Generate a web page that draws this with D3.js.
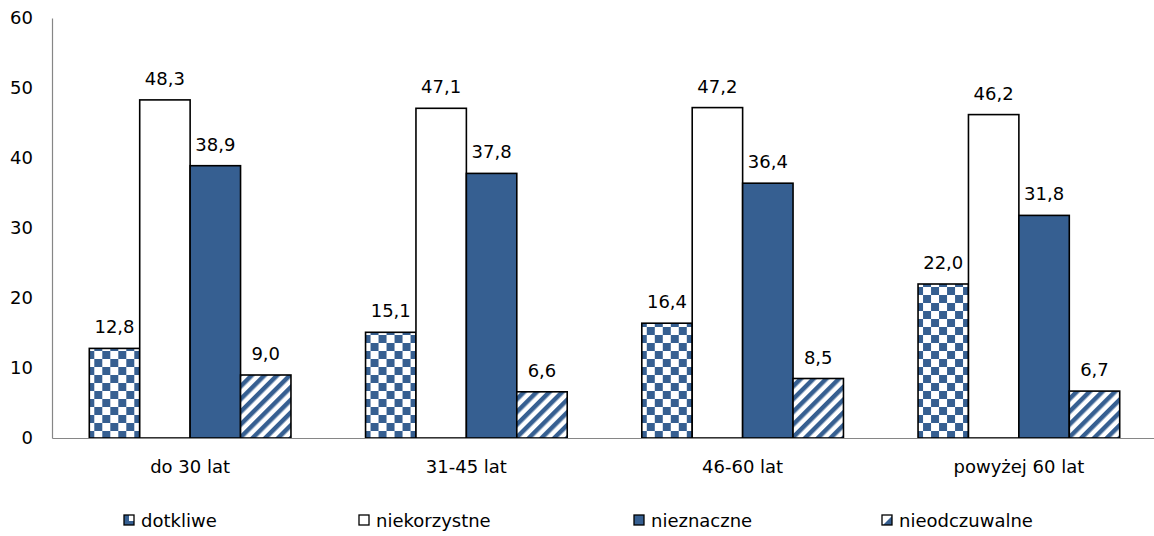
<!DOCTYPE html>
<html><head><meta charset="utf-8">
<script src="https://cdn.jsdelivr.net/npm/d3@7"></script>
<style>body{margin:0;background:#fff}svg{font-family:"DejaVu Sans",sans-serif}</style>
</head><body><svg id="c" width="1154" height="536"></svg>
<script>
const categories = ["do 30 lat", "31-45 lat", "46-60 lat", "powyżej 60 lat"];
const seriesNames = ["dotkliwe", "niekorzystne", "nieznaczne", "nieodczuwalne"];
const dotkliwe = [12.8, 15.1, 16.4, 22.0];
const niekorzystne = [48.3, 47.1, 47.2, 46.2];
const nieznaczne = [38.9, 37.8, 36.4, 31.8];
const nieodczuwalne = [9.0, 6.6, 8.5, 6.7];
const yTicks = [0, 10, 20, 30, 40, 50, 60];

const values = [dotkliwe, niekorzystne, nieznaczne, nieodczuwalne];
const blue = "#365F91";
const svg = d3.select("#c");
const defs = svg.append("defs");
const chk = defs.append("pattern").attr("id","chk").attr("patternUnits","userSpaceOnUse")
  .attr("width",16).attr("height",16).attr("x",93).attr("y",351);
chk.append("rect").attr("width",16).attr("height",16).attr("fill","#fff");
chk.append("rect").attr("width",8).attr("height",8).attr("fill",blue);
chk.append("rect").attr("x",8).attr("y",8).attr("width",8).attr("height",8).attr("fill",blue);
const str = defs.append("pattern").attr("id","str").attr("patternUnits","userSpaceOnUse")
  .attr("width",9).attr("height",9).attr("patternTransform","rotate(45)");
str.append("rect").attr("width",9).attr("height",9).attr("fill","#fff");
str.append("rect").attr("width",4.5).attr("height",9).attr("fill",blue);
const fills = ["url(#chk)", "#fff", blue, "url(#str)"];

const y = d3.scaleLinear().domain([0,60]).range([438,18]);
const x0 = d3.scaleBand().domain(categories).range([52,1157]).paddingInner(0.27).paddingOuter(0.135);
const x1 = d3.scaleBand().domain(seriesNames).range([0,x0.bandwidth()]);

// y axis
const yAxis = svg.append("g").attr("transform","translate(52,0)")
  .call(d3.axisLeft(y).tickValues(yTicks).tickSize(0).tickPadding(19).tickFormat(d3.format("d")));
yAxis.select(".domain").attr("stroke","#868686").attr("stroke-width",1.2);
yAxis.selectAll("text").attr("font-size",18).attr("fill","#000").attr("font-family","DejaVu Sans");

// bars
const groups = svg.append("g").selectAll("g").data(categories).join("g")
  .attr("transform", d => `translate(${x0(d)},0)`);
groups.selectAll("rect").data((c,i) => seriesNames.map((s,j) => ({s, j, v: values[j][i]})))
  .join("rect")
  .attr("x", d => x1(d.s)).attr("width", x1.bandwidth())
  .attr("y", d => y(d.v)).attr("height", d => y(0) - y(d.v))
  .attr("fill", d => fills[d.j]).attr("stroke","#000").attr("stroke-width",1.6);
groups.selectAll("text").data((c,i) => seriesNames.map((s,j) => ({s, j, v: values[j][i]})))
  .join("text")
  .attr("x", d => x1(d.s) + x1.bandwidth()/2).attr("y", d => y(d.v) - 15)
  .attr("text-anchor","middle").attr("font-size",18).attr("fill","#000")
  .text(d => d3.format(".1f")(d.v).replace(".", ","));

// x axis
const xAxis = svg.append("g").attr("transform","translate(0,438)")
  .call(d3.axisBottom(x0).tickSize(0).tickPadding(22).tickSizeOuter(0));
xAxis.select(".domain").attr("stroke","#868686").attr("stroke-width",1.2);
xAxis.selectAll("text").attr("font-size",18).attr("fill","#000").attr("font-family","DejaVu Sans");

// legend
const legX = [124, 359, 634, 882];
const leg = svg.append("g").selectAll("g").data(seriesNames).join("g")
  .attr("transform", (d,i) => `translate(${legX[i]},515)`);
leg.append("rect").attr("width",10).attr("height",10)
  .attr("fill", (d,i) => i === 0 ? blue : fills[i === 3 ? 1 : i]);
leg.filter((d,i) => i === 0).append("rect").attr("x",5).attr("y",0).attr("width",5).attr("height",6).attr("fill","#fff");
leg.filter((d,i) => i === 3).append("path").attr("d","M10,1L10,10L1,10Z").attr("fill",blue);
leg.append("rect").attr("width",10).attr("height",10)
  .attr("fill","none").attr("stroke","#000").attr("stroke-width",1.3);
leg.append("text").attr("x",17).attr("y",12).attr("font-size",18).attr("fill","#000").text(d => d);
</script></body></html>
